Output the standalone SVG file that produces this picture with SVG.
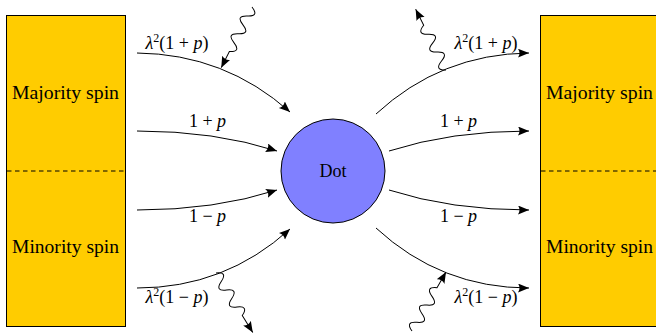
<svg xmlns="http://www.w3.org/2000/svg" width="656" height="335" viewBox="0 0 656 335">
<style>
.box{fill:#FFCC00;stroke:#000;stroke-width:1}
.dash{stroke:#000;stroke-width:1;stroke-dasharray:4.5,3.5;fill:none}
.dot{fill:#8080FF;stroke:#000;stroke-width:1}
.i{font-style:italic}
.arr{fill:none;stroke:#000;stroke-width:1;marker-end:url(#ah)}
.wav{fill:none;stroke:#000;stroke-width:1;marker-end:url(#ah)}
</style>
<defs>
<marker id="ah" markerUnits="userSpaceOnUse" markerWidth="13" markerHeight="10" refX="11" refY="4.5" orient="auto">
<path d="M0,0 Q3,4.5 0,9 L11,4.5 Z" fill="#000"/>
</marker>
</defs>
<g id="left-reservoir">
<rect class="box" x="6.5" y="15.5" width="119" height="311"/>
<line class="dash" x1="7" y1="171" x2="125" y2="171"/>
<text x="12" y="99" font-family="Liberation Serif" font-size="18" textLength="107" lengthAdjust="spacingAndGlyphs">Majority spin</text>
<text x="12" y="253" font-family="Liberation Serif" font-size="18" textLength="107" lengthAdjust="spacingAndGlyphs">Minority spin</text>
</g>
<g id="right-reservoir">
<rect class="box" x="540.5" y="15.5" width="119" height="311"/>
<line class="dash" x1="541" y1="171" x2="656" y2="171"/>
<text x="546" y="99" font-family="Liberation Serif" font-size="18" textLength="107" lengthAdjust="spacingAndGlyphs">Majority spin</text>
<text x="546" y="253" font-family="Liberation Serif" font-size="18" textLength="107" lengthAdjust="spacingAndGlyphs">Minority spin</text>
</g>
<g id="dot">
<circle class="dot" cx="333" cy="171" r="52"/>
<text x="333" y="177" font-family="Liberation Serif" font-size="18" text-anchor="middle">Dot</text>
</g>
<g id="connectors">
<path class="arr" d="M137,53 Q225,54 290,112"/>
<path class="arr" d="M137,131 Q215,131 277,151"/>
<path class="arr" d="M137,210 Q215,210 277,190"/>
<path class="arr" d="M137,288 Q225,288 290,229"/>
<path class="arr" d="M376,114 Q441,54 529,53"/>
<path class="arr" d="M389,151 Q451,131 529,131"/>
<path class="arr" d="M389,190 Q451,210 529,210"/>
<path class="arr" d="M376,228 Q441,288 529,288"/>
<g transform="translate(252,7) rotate(116.9)"><path class="wav" d="M0,0 q5,-11 10,0 t10,0 t10,0 t10,0 t10,0 l18,0"/></g>
<g transform="translate(216,273) rotate(58.3)"><path class="wav" d="M0,0 q5,-11 10,0 t10,0 t10,0 t10,0 t10,0 l20,0"/></g>
<g transform="translate(446,70) rotate(-116.5)"><path class="wav" d="M0,0 q5,-11 10,0 t10,0 t10,0 t10,0 t10,0 l18,0"/></g>
<g transform="translate(412,331) rotate(-60)"><path class="wav" d="M0,0 q5,-11 10,0 t10,0 t10,0 t10,0 t10,0 l18,0"/></g>
</g>
<g id="labels" font-family="Liberation Serif" font-size="18" text-anchor="middle">
<text x="177" y="49"><tspan class="i">λ</tspan><tspan font-size="12" dy="-7">2</tspan><tspan dy="7">(1 + </tspan><tspan class="i">p</tspan>)</text>
<text x="207.5" y="127">1 + <tspan class="i">p</tspan></text>
<text x="207.5" y="222">1 − <tspan class="i">p</tspan></text>
<text x="177" y="303"><tspan class="i">λ</tspan><tspan font-size="12" dy="-7">2</tspan><tspan dy="7">(1 − </tspan><tspan class="i">p</tspan>)</text>
<text x="486" y="49"><tspan class="i">λ</tspan><tspan font-size="12" dy="-7">2</tspan><tspan dy="7">(1 + </tspan><tspan class="i">p</tspan>)</text>
<text x="458.5" y="127">1 + <tspan class="i">p</tspan></text>
<text x="458.5" y="222">1 − <tspan class="i">p</tspan></text>
<text x="486" y="303"><tspan class="i">λ</tspan><tspan font-size="12" dy="-7">2</tspan><tspan dy="7">(1 − </tspan><tspan class="i">p</tspan>)</text>
</g>
</svg>
